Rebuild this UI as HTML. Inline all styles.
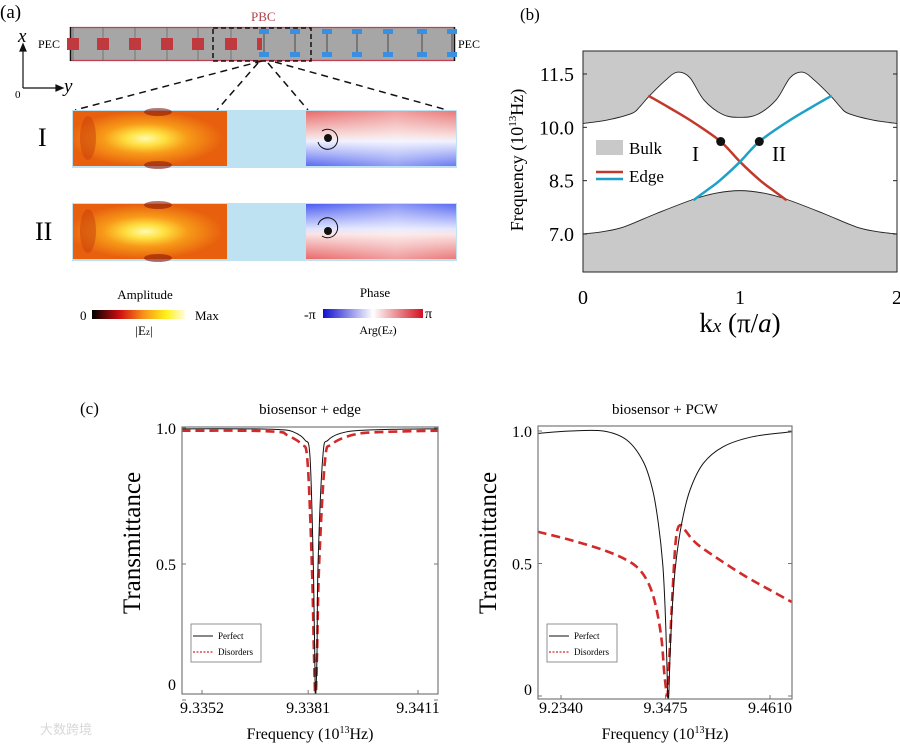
<!DOCTYPE html>
<html><head><meta charset="utf-8"><style>
html,body{margin:0;padding:0;background:#fff;}
svg{display:block;font-family:"Liberation Serif",serif;}
</style></head><body>
<svg id="fig" width="900" height="746" viewBox="0 0 900 746" xmlns="http://www.w3.org/2000/svg">
<defs>
<radialGradient id="ampG" cx="0.47" cy="0.5" r="0.5" fx="0.47" fy="0.5" gradientTransform="translate(0.0,0) scale(1,1)">
<stop offset="0" stop-color="#fffbb0"/><stop offset="0.25" stop-color="#ffe040"/><stop offset="0.55" stop-color="#f79a18"/><stop offset="1" stop-color="#e8600e"/></radialGradient>
<linearGradient id="ampBar" x1="0" x2="1"><stop offset="0" stop-color="#000"/><stop offset="0.3" stop-color="#d01010"/><stop offset="0.55" stop-color="#f7901a"/><stop offset="0.8" stop-color="#fff21a"/><stop offset="1" stop-color="#fffbe0"/></linearGradient>
<linearGradient id="phBar" x1="0" x2="1"><stop offset="0" stop-color="#1010d0"/><stop offset="0.5" stop-color="#ffffff"/><stop offset="1" stop-color="#d41020"/></linearGradient>
<linearGradient id="ph1" x1="0" y1="0" x2="0" y2="1"><stop offset="0" stop-color="#e86a6a"/><stop offset="0.45" stop-color="#f7dada"/><stop offset="0.55" stop-color="#eef0ff"/><stop offset="1" stop-color="#5a6cf0"/></linearGradient>
<linearGradient id="ph2" x1="0" y1="0" x2="0" y2="1"><stop offset="0" stop-color="#4a5cf0"/><stop offset="0.45" stop-color="#dfe3ff"/><stop offset="0.55" stop-color="#fbe2e2"/><stop offset="1" stop-color="#e86a6a"/></linearGradient>
<linearGradient id="fadeR" x1="0" x2="1"><stop offset="0" stop-color="#fff" stop-opacity="0"/><stop offset="0.6" stop-color="#fff" stop-opacity="0.35"/><stop offset="1" stop-color="#fff" stop-opacity="0.1"/></linearGradient>
</defs>

<!-- Panel (a) -->
<g>
<text x="0" y="18" font-size="19">(a)</text>
<text x="251" y="21" font-size="13" fill="#b0404a">PBC</text>
<text x="38" y="48" font-size="12">PEC</text>
<text x="458" y="48" font-size="12">PEC</text>
<g>
<rect x="70" y="27" width="385" height="34" fill="#a6a6a6"/>
<line x1="70" y1="27.5" x2="455" y2="27.5" stroke="#c04050" stroke-width="1.2"/>
<line x1="70" y1="60.5" x2="455" y2="60.5" stroke="#c04050" stroke-width="1.2"/>
<line x1="70.5" y1="27" x2="70.5" y2="61" stroke="#111" stroke-width="1.5"/>
<line x1="454.5" y1="27" x2="454.5" y2="61" stroke="#111" stroke-width="1.5"/>
<g id="cells"></g>
<rect x="213" y="28" width="98" height="33" fill="none" stroke="#111" stroke-width="1.5" stroke-dasharray="5,3"/>
</g>
<g stroke="#111" stroke-width="1.2">
<line x1="23" y1="88" x2="23" y2="50"/><line x1="23" y1="88" x2="58" y2="88"/>
<polygon points="23,44 20,51 26,51" fill="#111"/><polygon points="63,88 56,85 56,91" fill="#111"/>
</g>
<text x="18" y="42" font-size="19" font-style="italic">x</text>
<text x="64" y="92" font-size="19" font-style="italic">y</text>
<text x="15" y="98" font-size="11">0</text>
<g stroke="#111" stroke-width="1.5" stroke-dasharray="7,5">
<line x1="262" y1="61" x2="75" y2="110"/><line x1="258" y1="63" x2="217" y2="110"/>
<line x1="268" y1="63" x2="308" y2="110"/><line x1="275" y1="62" x2="447" y2="110"/>
</g>
<!-- Row I -->
<g>
<rect x="72" y="110" width="385" height="58" fill="#bfe2f2"/>
<rect x="73" y="111" width="154" height="55" fill="url(#ampG)"/>
<ellipse cx="158" cy="112" rx="14" ry="4" fill="#8a1a08" opacity="0.6"/><ellipse cx="158" cy="165" rx="14" ry="4" fill="#8a1a08" opacity="0.6"/>
<ellipse cx="88" cy="138" rx="8" ry="22" fill="#c8400a" opacity="0.5"/>
<rect x="306" y="111" width="150" height="55" fill="url(#ph1)"/>
<rect x="306" y="111" width="150" height="55" fill="url(#fadeR)"/>
<circle cx="328" cy="138" r="4" fill="#111"/>
<path d="M322 131 A10 10 0 1 1 318 142" fill="none" stroke="#111" stroke-width="1"/>
</g>
<text x="38" y="146" font-size="26">I</text>
<!-- Row II -->
<g>
<rect x="72" y="203" width="385" height="58" fill="#bfe2f2"/>
<rect x="73" y="204" width="154" height="55" fill="url(#ampG)"/>
<ellipse cx="158" cy="205" rx="14" ry="4" fill="#8a1a08" opacity="0.6"/><ellipse cx="158" cy="258" rx="14" ry="4" fill="#8a1a08" opacity="0.6"/>
<ellipse cx="88" cy="231" rx="8" ry="22" fill="#c8400a" opacity="0.5"/>
<rect x="306" y="204" width="150" height="55" fill="url(#ph2)"/>
<rect x="306" y="204" width="150" height="55" fill="url(#fadeR)"/>
<circle cx="328" cy="231" r="4" fill="#111"/>
<path d="M322 236 A10 10 0 1 0 318 225" fill="none" stroke="#111" stroke-width="1"/>
</g>
<text x="35" y="240" font-size="26">II</text>
<!-- colorbars -->
<text x="145" y="299" font-size="13" text-anchor="middle">Amplitude</text>
<rect x="92" y="310" width="93" height="9" fill="url(#ampBar)"/>
<text x="80" y="320" font-size="13">0</text>
<text x="195" y="320" font-size="13">Max</text>
<text x="144" y="335" font-size="13" text-anchor="middle">|E<tspan font-size="9">z</tspan>|</text>
<text x="375" y="297" font-size="13" text-anchor="middle">Phase</text>
<rect x="323" y="309" width="100" height="9" fill="url(#phBar)"/>
<text x="304" y="319" font-size="14">-π</text>
<text x="425" y="318" font-size="14">π</text>
<text x="378" y="334" font-size="12" text-anchor="middle">Arg(E<tspan font-size="8">z</tspan>)</text>
</g>

<!-- Panel (b) -->
<g id="pb">
<text x="520" y="20" font-size="17">(b)</text>
</g>

<!-- Panel (c) -->
<g id="pc">
<text x="80" y="414" font-size="17">(c)</text>
</g>
<text x="40" y="734" font-size="13" fill="#d8d8d8" font-family="'Liberation Sans','Noto Sans CJK SC',sans-serif">大数跨境</text>
</svg>
<script>
// ===== Panel (b) data =====
const bandK = [0, 0.15, 0.31, 0.36, 0.416, 0.52, 0.6, 0.68, 0.77, 0.89, 1.0];
const upperBand = [10.11, 10.2, 10.39, 10.57, 10.85, 11.3, 11.55, 11.4, 10.77, 10.36, 10.28];
const lowerK = [0, 0.13, 0.26, 0.47, 0.70, 0.85, 1.0];
const lowerBand = [7.0, 7.07, 7.2, 7.58, 7.97, 8.15, 8.22];
const edgeK = [0.416, 0.55, 0.7, 0.877, 1.0, 1.13, 1.22, 1.297];
const edgeF = [10.89, 10.55, 10.15, 9.6, 9.03, 8.5, 8.2, 7.95];
const dotK = [0.877, 1.123];
const dotF = [9.6, 9.6];
const bYTicks = [7.0, 8.5, 10.0, 11.5];
const bYTickLabels = ["7.0", "8.5", "10.0", "11.5"];
const bXTicks = [0, 1, 2];

// ===== Panel (c) data =====
const edgePerfectF = [9.33464, 9.33642, 9.33733, 9.33769, 9.33801, 9.33815, 9.33824, 9.33828, 9.33830, 9.33834, 9.33837, 9.33850, 9.33865, 9.33915, 9.34006, 9.34164];
const edgePerfectT = [0.997, 0.997, 0.994, 0.986, 0.956, 0.894, 0.5, 0.16, 0.0, 0.16, 0.5, 0.894, 0.956, 0.986, 0.994, 0.997];
const edgeDisF = [9.33464, 9.33642, 9.33733, 9.33751, 9.33792, 9.33808, 9.33820, 9.33826, 9.33830, 9.33834, 9.33840, 9.33856, 9.33874, 9.33933, 9.34006, 9.34164];
const edgeDisT = [0.99, 0.99, 0.985, 0.975, 0.94, 0.88, 0.5, 0.16, 0.0, 0.16, 0.5, 0.88, 0.94, 0.975, 0.985, 0.99];
const edgeXTicks = [9.3352, 9.3381, 9.3411];
const edgeXTickLabels = ["9.3352", "9.3381", "9.3411"];
const pcwPerfectF = [9.2087, 9.2438, 9.2799, 9.3054, 9.3234, 9.3336, 9.3397, 9.3445, 9.3470, 9.3488, 9.3499, 9.3510, 9.3524, 9.3549, 9.3586, 9.3651, 9.3741, 9.3886, 9.4103, 9.4429, 9.4846];
const pcwPerfectT = [0.991, 1.0, 1.0, 0.966, 0.884, 0.777, 0.652, 0.498, 0.337, 0.148, 0.0, 0.0, 0.148, 0.337, 0.498, 0.652, 0.777, 0.878, 0.941, 0.979, 0.997];
const pcwDisF = [9.2087, 9.2438, 9.2800, 9.3053, 9.3198, 9.3307, 9.3379, 9.3433, 9.3462, 9.3495, 9.3509, 9.3531, 9.3553, 9.3578, 9.3603, 9.3640, 9.3687, 9.3813, 9.4067, 9.4356, 9.4610, 9.4845];
const pcwDisT = [0.620, 0.589, 0.551, 0.513, 0.475, 0.412, 0.325, 0.211, 0.086, 0.0, 0.086, 0.249, 0.40, 0.551, 0.626, 0.645, 0.626, 0.575, 0.513, 0.449, 0.400, 0.355];
const pcwXTicks = [9.2340, 9.3475, 9.4610];
const pcwXTickLabels = ["9.2340", "9.3475", "9.4610"];
const tYTicks = [0, 0.5, 1.0];
const tYTickLabels = ["0", "0.5", "1.0"];

const NS = "http://www.w3.org/2000/svg";
function mk(parent, tag, attrs, text) {
  const e = document.createElementNS(NS, tag);
  for (const k in attrs) e.setAttribute(k, attrs[k]);
  if (text !== undefined) e.textContent = text;
  parent.appendChild(e);
  return e;
}
function smooth(pts) {
  let d = "M" + pts[0][0].toFixed(2) + " " + pts[0][1].toFixed(2);
  for (let i = 0; i < pts.length - 1; i++) {
    const p0 = pts[Math.max(0, i - 1)], p1 = pts[i], p2 = pts[i + 1], p3 = pts[Math.min(pts.length - 1, i + 2)];
    const c1 = [p1[0] + (p2[0] - p0[0]) / 6, p1[1] + (p2[1] - p0[1]) / 6];
    const c2 = [p2[0] - (p3[0] - p1[0]) / 6, p2[1] - (p3[1] - p1[1]) / 6];
    d += " C" + c1[0].toFixed(2) + " " + c1[1].toFixed(2) + " " + c2[0].toFixed(2) + " " + c2[1].toFixed(2) + " " + p2[0].toFixed(2) + " " + p2[1].toFixed(2);
  }
  return d;
}
function linePath(pts) { return pts.map((p, i) => (i ? "L" : "M") + p[0].toFixed(2) + " " + p[1].toFixed(2)).join(" "); }

// ===== strip cells =====
(function () {
  const g = document.getElementById("cells");
  const redX = [73, 103, 135, 167, 198, 231];
  redX.forEach((x) => {
    const l = mk(g, "line", { x1: x, y1: 27, x2: x, y2: 61, stroke: "#555", "stroke-width": 0.6 });
    const r = mk(g, "rect", { x: x - 6, y: 38, width: 12, height: 12, fill: "#c0393f" });
    
    
  });
  mk(g, "rect", { x: 257, y: 38, width: 5, height: 12, fill: "#c0393f" });
  const blueX = [264, 295, 327, 357, 388, 422, 452];
  blueX.forEach((x) => {
    mk(g, "line", { x1: x, y1: 32, x2: x, y2: 55, stroke: "#333", "stroke-width": 0.8 });
    const a = mk(g, "rect", { x: x - 5, y: 29, width: 10, height: 5, fill: "#3a8fe0" });
    
    
    mk(g, "rect", { x: x - 5, y: 52, width: 10, height: 5, fill: "#3a8fe0" });
  });
})();

// ===== Panel (b) =====
(function () {
  const g = document.getElementById("pb");
  const L = 583, R = 897, T = 51, B = 272;
  const xk = (k) => L + k * (R - L) / 2;
  const yf = (f) => 234 - (f - 7) * 35.56;
  const upPts = [], loPts = [];
  bandK.forEach((k, i) => upPts.push([xk(k), yf(upperBand[i])]));
  for (let i = bandK.length - 2; i >= 0; i--) upPts.push([xk(2 - bandK[i]), yf(upperBand[i])]);
  lowerK.forEach((k, i) => loPts.push([xk(k), yf(lowerBand[i])]));
  for (let i = lowerK.length - 2; i >= 0; i--) loPts.push([xk(2 - lowerK[i]), yf(lowerBand[i])]);
  const up = smooth(upPts), lo = smooth(loPts);
  const u = mk(g, "path", { d: "M" + L + " " + T + " L" + L + " " + upPts[0][1] + " " + up.replace(/^M[^C]*/, "L" + upPts[0][0] + " " + upPts[0][1] + " ") + " L" + R + " " + T + " Z", fill: "#c9c9c9" });
  
  
  const lw = mk(g, "path", { d: lo + " L" + R + " " + B + " L" + L + " " + B + " Z", fill: "#c9c9c9" });
  
  
  mk(g, "path", { d: up, fill: "none", stroke: "#222", "stroke-width": 0.9 });
  mk(g, "path", { d: lo, fill: "none", stroke: "#222", "stroke-width": 0.9 });
  const red = mk(g, "path", { d: smooth(edgeK.map((k, i) => [xk(k), yf(edgeF[i])])), fill: "none", stroke: "#c2392a", "stroke-width": 2.5 });
  
  
  const blue = mk(g, "path", { d: smooth(edgeK.map((k, i) => [xk(2 - k), yf(edgeF[i])])), fill: "none", stroke: "#1fa0c8", "stroke-width": 2.5 });
  
  
  dotK.forEach((k, i) => {
    const c = mk(g, "circle", { cx: xk(k), cy: yf(dotF[i]), r: 4.5, fill: "#111" });
    
    
  });
  const fr = mk(g, "rect", { x: L, y: T, width: R - L, height: B - T, fill: "none", stroke: "#222", "stroke-width": 1 });
  
  
  bYTicks.forEach((v, i) => {
    mk(g, "line", { x1: L, y1: yf(v), x2: L + 4, y2: yf(v), stroke: "#222" });
    mk(g, "line", { x1: R, y1: yf(v), x2: R - 4, y2: yf(v), stroke: "#222" });
    const t = mk(g, "text", { x: 574, y: yf(v) + 7, "font-size": 20, "text-anchor": "end" }, bYTickLabels[i]);
    
    
  });
  bXTicks.forEach((v) => {
    const t = mk(g, "text", { x: xk(v), y: 304, "font-size": 20, "text-anchor": "middle" }, String(v));
    
    
  });
  const xl = mk(g, "text", { x: 740, y: 332, "font-size": 27, "text-anchor": "middle" });
  xl.innerHTML = 'k<tspan font-size="19" font-style="italic">x</tspan> (π/<tspan font-style="italic">a</tspan>)';
  
  
  const yl = mk(g, "text", { x: 0, y: 0, "font-size": 18, "text-anchor": "middle", transform: "translate(523,160) rotate(-90)" });
  yl.innerHTML = 'Frequency (10<tspan font-size="11" dy="-7">13</tspan><tspan dy="7">Hz)</tspan>';
  
  
  const lg = mk(g, "g", {});
  
  
  mk(lg, "rect", { x: 596, y: 140, width: 27, height: 15, fill: "#c9c9c9" });
  mk(lg, "text", { x: 629, y: 154, "font-size": 17 }, "Bulk");
  mk(lg, "line", { x1: 596, y1: 172, x2: 623, y2: 172, stroke: "#c2392a", "stroke-width": 2.5 });
  mk(lg, "line", { x1: 596, y1: 179, x2: 623, y2: 179, stroke: "#1fa0c8", "stroke-width": 2.5 });
  mk(lg, "text", { x: 629, y: 182, "font-size": 17 }, "Edge");
  const l1 = mk(g, "text", { x: 692, y: 161, "font-size": 21 }, "I");
  
  
  const l2 = mk(g, "text", { x: 772, y: 161, "font-size": 21 }, "II");
  
  
})();

// ===== Panel (c) =====
function transPanel(o) {
  const g = mk(document.getElementById("pc"), "g", {});
  
  
  const xf = (f) => o.x0 + (f - o.f0) * o.pxPerUnit;
  const yt = (t) => o.y0 - t * o.pxT;
  const clip = mk(g, "clipPath", { id: o.name + "-clip" });
  mk(clip, "rect", { x: o.L, y: o.T - 3, width: o.R - o.L, height: o.B - o.T + 3 });
  const title = mk(g, "text", { x: (o.L + o.R) / 2, y: 414, "font-size": 15, "text-anchor": "middle" }, o.title);
  
  
  const dl = mk(g, "path", { d: smooth(o.disF.map((f, i) => [xf(f), yt(o.disT[i])])), fill: "none", stroke: "#d22a2a", "stroke-width": 2.6, "stroke-dasharray": "9,5", "clip-path": "url(#" + o.name + "-clip)" });
  
  
  const pl = mk(g, "path", { d: smooth(o.perF.map((f, i) => [xf(f), yt(o.perT[i])])), fill: "none", stroke: "#111", "stroke-width": 1, "clip-path": "url(#" + o.name + "-clip)" });
  
  
  const fr = mk(g, "rect", { x: o.L, y: o.T, width: o.R - o.L, height: o.B - o.T, fill: "none", stroke: "#777", "stroke-width": 1.2 });
  
  
  tYTicks.forEach((v, i) => {
    mk(g, "line", { x1: o.L, y1: yt(v), x2: o.L + 4, y2: yt(v), stroke: "#777" });
    mk(g, "line", { x1: o.R, y1: yt(v), x2: o.R - 4, y2: yt(v), stroke: "#777" });
    const t = mk(g, "text", { x: o.L - 6, y: Math.min(yt(v) + 6, o.B - 4), "font-size": 16, "text-anchor": "end" }, tYTickLabels[i]);
    
    
  });
  o.xt.forEach((v, i) => {
    mk(g, "line", { x1: xf(v), y1: o.B, x2: xf(v), y2: o.B - 4, stroke: "#777" });
    const t = mk(g, "text", { x: xf(v), y: 713, "font-size": 16, "text-anchor": "middle" }, o.xtl[i]);
    
    
  });
  const xl = mk(g, "text", { x: (o.L + o.R) / 2, y: 739, "font-size": 16, "text-anchor": "middle" });
  xl.innerHTML = 'Frequency (10<tspan font-size="10" dy="-6">13</tspan><tspan dy="6">Hz)</tspan>';
  
  
  const yl = mk(g, "text", { x: 0, y: 0, "font-size": 25, "text-anchor": "middle", transform: "translate(" + (o.L - 42) + ",543) rotate(-90)" }, "Transmittance");
  
  
  const lg = mk(g, "g", {});
  
  
  const lx = o.L + 9;
  mk(lg, "rect", { x: lx, y: 624, width: 70, height: 38, fill: "#fff", stroke: "#777", "stroke-width": 0.8 });
  mk(lg, "line", { x1: lx + 2, y1: 636, x2: lx + 22, y2: 636, stroke: "#111", "stroke-width": 1 });
  mk(lg, "text", { x: lx + 27, y: 639, "font-size": 9 }, "Perfect");
  mk(lg, "line", { x1: lx + 2, y1: 652, x2: lx + 22, y2: 652, stroke: "#d22a2a", "stroke-width": 1.2, "stroke-dasharray": "2,1.5" });
  mk(lg, "text", { x: lx + 27, y: 655, "font-size": 9 }, "Disorders");
}
transPanel({ name: "edge-chart", title: "biosensor + edge", L: 182, R: 438, T: 427, B: 694, x0: 202, f0: 9.3352, pxPerUnit: 36610, y0: 700, pxT: 272,
  perF: edgePerfectF, perT: edgePerfectT, disF: edgeDisF, disT: edgeDisT, xt: edgeXTicks, xtl: edgeXTickLabels });
transPanel({ name: "pcw-chart", title: "biosensor + PCW", L: 538, R: 792, T: 426, B: 699, x0: 561, f0: 9.2340, pxPerUnit: 920.7, y0: 696, pxT: 265,
  perF: pcwPerfectF, perT: pcwPerfectT, disF: pcwDisF, disT: pcwDisT, xt: pcwXTicks, xtl: pcwXTickLabels });
</script>
</body></html>
